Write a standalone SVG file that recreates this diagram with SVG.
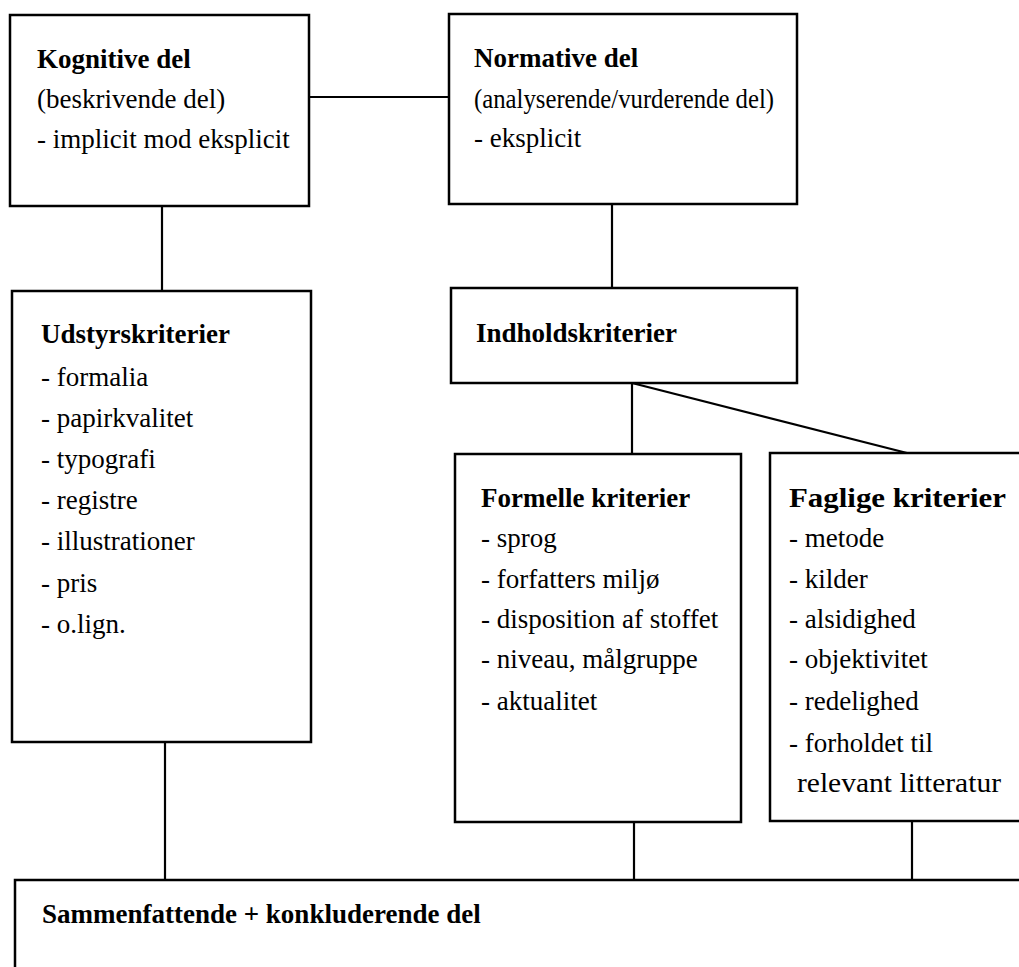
<svg xmlns="http://www.w3.org/2000/svg" width="1019" height="967" viewBox="0 0 1019 967">
<style>
  .box { fill: #ffffff; stroke: #000000; stroke-width: 2.5; }
  .conn { fill: none; stroke: #000000; stroke-width: 2.2; }
  text { font-family: "Liberation Serif", "Times New Roman", serif; font-size: 27px; fill: #000000; }
  .b { font-weight: bold; }
</style>
<rect x="0" y="0" width="1019" height="967" fill="#ffffff"/>
<g id="connectors">
  <line class="conn" x1="309" y1="97" x2="449" y2="97"/>
  <line class="conn" x1="162" y1="206" x2="162" y2="291"/>
  <line class="conn" x1="612" y1="204" x2="612" y2="288"/>
  <line class="conn" x1="632" y1="383" x2="632" y2="454"/>
  <line class="conn" x1="632" y1="383" x2="907" y2="453"/>
  <line class="conn" x1="165" y1="742" x2="165" y2="880"/>
  <line class="conn" x1="634" y1="822" x2="634" y2="880"/>
  <line class="conn" x1="912" y1="821" x2="912" y2="880"/>
</g>
<g id="kognitive">
  <rect class="box" x="10" y="15" width="299" height="191"/>
  <text class="b" x="37" y="68">Kognitive del</text>
  <text x="37" y="108">(beskrivende del)</text>
  <text x="37" y="148">- implicit mod eksplicit</text>
</g>
<g id="normative">
  <rect class="box" x="449" y="14" width="348" height="190"/>
  <text class="b" x="474" y="67">Normative del</text>
  <text x="474" y="108" textLength="300" lengthAdjust="spacingAndGlyphs">(analyserende/vurderende del)</text>
  <text x="474" y="147">- eksplicit</text>
</g>
<g id="udstyr">
  <rect class="box" x="12" y="291" width="299" height="451"/>
  <text class="b" x="41" y="343">Udstyrskriterier</text>
  <text x="41" y="386">- formalia</text>
  <text x="41" y="427">- papirkvalitet</text>
  <text x="41" y="468">- typografi</text>
  <text x="41" y="509">- registre</text>
  <text x="41" y="550">- illustrationer</text>
  <text x="41" y="592">- pris</text>
  <text x="41" y="633">- o.lign.</text>
</g>
<g id="indhold">
  <rect class="box" x="451" y="288" width="346" height="95"/>
  <text class="b" x="476" y="342">Indholdskriterier</text>
</g>
<g id="formelle">
  <rect class="box" x="455" y="454" width="286" height="368"/>
  <text class="b" x="481" y="507">Formelle kriterier</text>
  <text x="481" y="547">- sprog</text>
  <text x="481" y="588">- forfatters miljø</text>
  <text x="481" y="628">- disposition af stoffet</text>
  <text x="481" y="668">- niveau, målgruppe</text>
  <text x="481" y="710">- aktualitet</text>
</g>
<g id="faglige">
  <rect class="box" x="770" y="453" width="280" height="368"/>
  <text class="b" x="789" y="507" textLength="217" lengthAdjust="spacingAndGlyphs">Faglige kriterier</text>
  <text x="789" y="547">- metode</text>
  <text x="789" y="588">- kilder</text>
  <text x="789" y="628">- alsidighed</text>
  <text x="789" y="668">- objektivitet</text>
  <text x="789" y="710">- redelighed</text>
  <text x="789" y="752">- forholdet til</text>
  <text x="797" y="792" textLength="204" lengthAdjust="spacingAndGlyphs">relevant litteratur</text>
</g>
<g id="sammenfattende">
  <rect class="box" x="15" y="880" width="1040" height="120"/>
  <text class="b" x="42" y="923">Sammenfattende + konkluderende del</text>
</g>
</svg>
